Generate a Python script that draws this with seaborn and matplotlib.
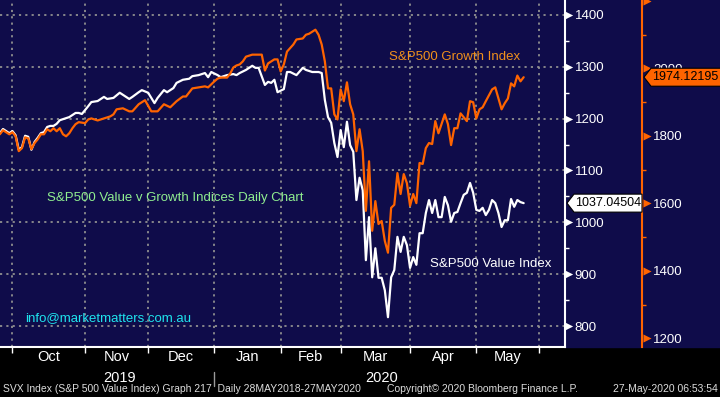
"""S&P500 Value v Growth indices, Bloomberg style daily chart."""

import matplotlib

matplotlib.use("Agg")

import matplotlib.pyplot as plt
import matplotlib.ticker as mticker
import numpy as np
import seaborn as sns
from matplotlib.patches import Polygon, Rectangle
from matplotlib.transforms import IdentityTransform

NAVY = "#0f0c4a"
ORANGE = "#ff6400"

HOLIDAYS = ["2019-11-28", "2019-12-25", "2020-01-01", "2020-01-20",
            "2020-02-17", "2020-04-10", "2020-05-25"]
MONTHS = ["Oct", "Nov", "Dec", "Jan", "Feb", "Mar", "Apr", "May"]
MONTH_STARTS = ["2019-10-01", "2019-11-01", "2019-12-01", "2020-01-01",
                "2020-02-01", "2020-03-01", "2020-04-01", "2020-05-01",
                "2020-06-01"]
YEARS = ["2019", "2020"]

# trading day number, counted from 1 Oct 2019
value_day = [-4, -3, -1, 0, 1, 2, 3, 4, 5, 6, 7, 8, 9, 10, 11, 12, 13, 14, 15,
             17, 18, 19, 20, 21, 22, 24, 25, 27, 29, 30, 32, 34, 35, 37, 38, 40,
             41, 43, 45, 46, 48, 49, 51, 52, 54, 56, 57, 59, 61, 62, 63, 65, 66,
             68, 70, 71, 72, 74, 76, 77, 78, 80, 81, 82, 83, 84, 86, 87, 88, 90,
             92, 93, 95, 97, 98, 99, 100, 101, 102, 103, 104, 105, 106, 107,
             108, 109, 110, 111, 112, 113, 114, 115, 116, 117, 118, 119, 120,
             121, 122, 123, 124, 125, 126, 127, 128, 129, 130, 131, 132, 133,
             134, 135, 136, 137, 138, 139, 140, 141, 142, 143, 144, 145, 146,
             147, 148, 149, 150, 151, 152, 153, 154, 155, 156, 157, 158, 159,
             160, 161, 162]
value_close = [1172, 1180, 1172, 1176, 1168, 1140, 1145, 1167, 1165, 1140, 1155,
               1163, 1172, 1174, 1184, 1186, 1186, 1190, 1197, 1201, 1203, 1207,
               1211, 1211, 1209, 1224, 1232, 1234, 1242, 1238, 1240, 1250, 1246,
               1238, 1242, 1251, 1255, 1250, 1230, 1240, 1255, 1251, 1259, 1269,
               1275, 1277, 1282, 1284, 1288, 1280, 1290, 1284, 1280, 1284, 1286,
               1284, 1288, 1294, 1302, 1298, 1298, 1265, 1271, 1269, 1275, 1251,
               1257, 1290, 1290, 1284, 1298, 1294, 1290, 1290, 1288, 1236, 1203,
               1192, 1153, 1126, 1178, 1145, 1194, 1149, 1136, 1043, 1086, 1062,
               927, 1010, 894, 950, 893, 893, 869, 817, 894, 908, 972, 943, 972,
               956, 912, 933, 918, 979, 979, 1018, 1043, 1018, 1043, 1010, 1010,
               1049, 1033, 1001, 1018, 1020, 1037, 1053, 1057, 1076, 1057, 1024,
               1022, 1028, 1014, 1024, 1043, 1037, 1018, 991, 1004, 1004, 1045,
               1030, 1043, 1039, 1037.04504]

growth_day = [-4, -3, -1, 0, 1, 2, 3, 4, 5, 6, 7, 8, 9, 10, 11, 12, 13, 14, 15,
              16, 17, 18, 19, 20, 21, 23, 24, 25, 27, 29, 31, 32, 33, 35, 37, 38,
              40, 42, 44, 46, 48, 50, 52, 54, 55, 57, 59, 61, 62, 63, 64, 65, 66,
              68, 69, 70, 71, 72, 73, 74, 76, 77, 79, 80, 81, 83, 84, 85, 86, 87,
              89, 90, 92, 93, 94, 95, 96, 97, 98, 99, 100, 101, 102, 103, 104,
              105, 106, 107, 108, 109, 110, 111, 112, 113, 114, 115, 116, 117,
              118, 119, 120, 121, 122, 123, 124, 125, 126, 127, 128, 129, 130,
              131, 132, 133, 134, 135, 137, 138, 139, 140, 141, 142, 144, 145,
              146, 147, 148, 149, 150, 152, 153, 155, 156, 157, 158, 159, 160,
              161, 162]
growth_close = [1805, 1817, 1805, 1811, 1799, 1755, 1764, 1796, 1793, 1761, 1779,
                1790, 1805, 1805, 1820, 1814, 1823, 1814, 1823, 1805, 1799, 1808,
                1823, 1835, 1841, 1838, 1849, 1852, 1846, 1852, 1858, 1864, 1879,
                1882, 1873, 1873, 1894, 1906, 1873, 1873, 1894, 1885, 1903, 1917,
                1917, 1941, 1944, 1947, 1944, 1953, 1962, 1970, 1973, 1973, 1985,
                2003, 2009, 2012, 2021, 2035, 2041, 2041, 2041, 1994, 2015, 2027,
                2027, 1991, 2012, 2050, 2071, 2086, 2089, 2100, 2103, 2109, 2115,
                2100, 2071, 2021, 1941, 1941, 1864, 1849, 1938, 1903, 1959, 1894,
                1864, 1755, 1820, 1755, 1578, 1725, 1519, 1607, 1539, 1548, 1489,
                1454, 1587, 1596, 1690, 1628, 1687, 1660, 1593, 1628, 1601, 1720,
                1717, 1764, 1779, 1776, 1844, 1808, 1864, 1835, 1773, 1823, 1823,
                1867, 1844, 1903, 1900, 1852, 1879, 1885, 1903, 1938, 1944, 1879,
                1897, 1911, 1956, 1947, 1979, 1962, 1974.12195]

value_ticks = [800, 900, 1000, 1100, 1200, 1300, 1400]
value_minor = [850, 950, 1050, 1150, 1250, 1350]
growth_ticks = [1200, 1400, 1600, 1800, 2000]
growth_minor = [1300, 1500, 1700, 1900, 2100]
growth_flags = [1200, 1400, 1600, 1800, 2000, 2200]

sns.set_theme(style="dark", rc={"axes.facecolor": NAVY, "figure.facecolor": "black"})
plt.rcParams["font.family"] = ["Liberation Sans", "DejaVu Sans"]
NARROW = ["Liberation Sans Narrow", "Liberation Sans", "DejaVu Sans"]

month_pos = np.busday_count("2019-10-01", MONTH_STARTS, holidays=HOLIDAYS)
month_mid = (month_pos[:-1] + month_pos[1:]) / 2

fig = plt.figure(figsize=(7.2, 3.97), dpi=100)
ax = fig.add_axes([0, 50 / 397, 565 / 720, 347 / 397])
fig.add_artist(Rectangle((565 / 720, 50 / 397), 155 / 720, 347 / 397,
                         transform=fig.transFigure, color=NAVY, zorder=-1))
ax2 = ax.twinx()

sns.lineplot(x=value_day, y=value_close, ax=ax, color="white", linewidth=1.6,
             estimator=None, sort=False)
sns.lineplot(x=growth_day, y=growth_close, ax=ax2, color=ORANGE, linewidth=1.6,
             estimator=None, sort=False)

ax.set_xlim(-3.95, 175.1)
ax.set_ylim(759.5, 1428.9)
ax2.set_ylim(1174.5, 2203)
ax.set_zorder(1)
ax.patch.set_visible(True)
ax2.set_zorder(2)
ax.set_xlabel("")
ax.set_ylabel("")
ax2.set_ylabel("")

# x axis: month starts ticks, labels mid-month
ax.xaxis.set_major_locator(mticker.FixedLocator(month_pos))
ax.xaxis.set_major_formatter(mticker.NullFormatter())
ax.xaxis.set_minor_locator(mticker.FixedLocator(month_mid))
ax.xaxis.set_minor_formatter(mticker.FixedFormatter(MONTHS))
ax.tick_params(axis="x", which="major", length=4, width=1, color="white",
               direction="out", bottom=True)
ax.tick_params(axis="x", which="minor", length=0, pad=2, labelcolor="white",
               labelsize=10.5, bottom=True)
for label in ax.get_xticklabels(minor=True):
    label.set_family(NARROW)

# value axis on the right
ax.yaxis.tick_right()
ax.set_yticks(value_ticks)
ax.set_yticks(value_minor, minor=True)
ax.tick_params(axis="y", which="major", length=0, pad=7, labelcolor="white",
               labelsize=9.5, right=True, left=False)
ax.tick_params(axis="y", which="minor", length=3, width=1, color="white",
               right=True, left=False)

# growth axis further right
ax2.spines["right"].set_position(("axes", 642 / 565))
ax2.set_yticks(growth_ticks)
ax2.set_yticks(growth_minor, minor=True)
ax2.tick_params(axis="y", which="major", length=0, pad=8, labelcolor="white",
                labelsize=9.5)
ax2.tick_params(axis="y", which="minor", length=3, width=1, color=ORANGE)

for spine in ["top", "left"]:
    ax.spines[spine].set_visible(False)
    ax2.spines[spine].set_visible(False)
ax2.spines["bottom"].set_visible(False)
ax.spines["right"].set_color("white")
ax.spines["right"].set_linewidth(1.5)
ax.spines["bottom"].set_color("white")
ax.spines["bottom"].set_linewidth(1.5)
ax2.spines["right"].set_color(ORANGE)
ax2.spines["right"].set_linewidth(1.5)

grid_style = dict(color="#8f8f8f", linewidth=1.3, linestyle=(0, (1.2, 2.3)))
ax.grid(True, which="major", axis="both", **grid_style)
ax.grid(False, which="minor")
ax2.grid(False)

# tick flags
ax.scatter([569 / 565] * len(value_ticks), value_ticks, marker=">", s=28,
           color="white", transform=ax.get_yaxis_transform(), clip_on=False,
           zorder=5, linewidths=0)
ax2.scatter([647 / 565] * len(growth_flags), growth_flags, marker=">", s=34,
            color=ORANGE, transform=ax2.get_yaxis_transform(), clip_on=False,
            zorder=5, linewidths=0)

# year row
jan = month_pos[3]
ax.plot([jan, jan], [-0.072, -0.112], color="#9a9a9a", linewidth=1,
        transform=ax.get_xaxis_transform(), clip_on=False)
for year, pos in zip(YEARS, [34, 117]):
    ax.text(pos, -0.089, year, color="white", fontsize=10.5, ha="center",
            va="center", family=NARROW, transform=ax.get_xaxis_transform())

# annotations
ax.text(0.6885, 0.836, "S&P500 Growth Index", color="#f0901c", fontsize=9.5,
        va="center", transform=ax.transAxes)
ax.text(0.761, 0.239, "S&P500 Value Index", color="white", fontsize=9.5,
        va="center", transform=ax.transAxes)
ax.text(0.083, 0.429, "S&P500 Value v Growth Indices Daily Chart",
        color="#90ee90", fontsize=9.5, va="center", transform=ax.transAxes)
ax.text(0.044, 0.084, "info@marketmatters.com.au", color="#1ee4ee",
        fontsize=9.5, va="center", transform=ax.transAxes)


def last_value_flag(axis, value, x0, x1, face):
    """Draw the left-pointing last-price box at the value's height."""
    y = axis.transData.transform((0, value))[1]
    half = 9
    points = [(x0, y), (x0 + 7, y + half), (x1, y + half), (x1, y - half),
              (x0 + 7, y - half)]
    fig.add_artist(Polygon(points, closed=True, transform=IdentityTransform(),
                           facecolor=face, edgecolor="black", linewidth=0.8,
                           zorder=6))
    fig.text(x0 + 8, y, f"{value:.5f}", color="black", fontsize=9,
             va="center", ha="left", transform=IdentityTransform(), zorder=7)


last_value_flag(ax2, growth_close[-1], 644, 721, ORANGE)
last_value_flag(ax, value_close[-1], 567, 642, "white")

# footer
footer = dict(color="#dcdcdc", fontsize=7.5, va="center", family=NARROW)
fig.text(3 / 720, 8 / 397,
         "SVX Index (S&P 500 Value Index) Graph 217  Daily 28MAY2018-27MAY2020",
         ha="left", **footer)
fig.text(387 / 720, 8 / 397, "Copyright\u00a9 2020 Bloomberg Finance L.P.",
         ha="left", **footer)
fig.text(718 / 720, 8 / 397, "27-May-2020 06:53:54", ha="right", **footer)

fig.savefig("out.png", dpi=100, facecolor="black")
plt.close(fig)
